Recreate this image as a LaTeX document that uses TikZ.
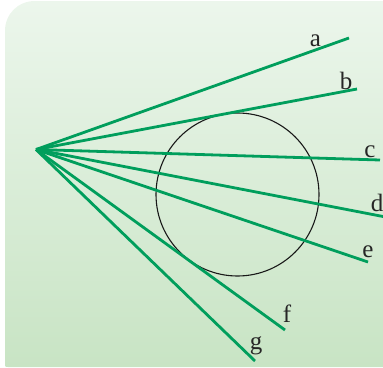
\documentclass[tikz,border=0pt]{standalone}
\usepackage{fontspec}
\setmainfont{Liberation Serif}
\definecolor{bgtop}{RGB}{236,246,236}
\definecolor{bgbot}{RGB}{200,228,196}
\definecolor{raygreen}{RGB}{0,158,92}
\begin{document}
\begin{tikzpicture}[x=1pt,y=-1pt,
  ray/.style={draw=raygreen,line width=2.8pt},
  lab/.style={anchor=base,inner sep=0pt,font=\fontsize{25}{28}\selectfont,text=black!85}]
\useasboundingbox (0,0) rectangle (383,367);
\shade[top color=bgtop,bottom color=bgbot]
  (5,366) -- (5,31) .. controls (5,14) and (18,1) .. (35,1) -- (383,1) -- (383,367) -- (8,367) .. controls (6,367) and (5,366.5) .. (5,366) -- cycle;
\node[draw=black!90,line width=1.1pt,circle,minimum size=163pt,inner sep=0pt] (circ) at (237.5,194.5) {};
\coordinate (O) at (36,149.5);
\coordinate (A) at (349,38);
\coordinate (B) at (357,89);
\coordinate (C) at (380,160);
\coordinate (D) at (383,216.5);
\coordinate (E) at (368,262);
\coordinate (F) at (285,330);
\coordinate (G) at (255,361);
\foreach \p in {A,B,C,D,E,F,G}{\draw[ray] (O) -- (\p);}
\node[lab] (la) at (315.5,46) {a};
\node[lab] (lb) at (346,89) {b};
\node[lab] (lc) at (370,157) {c};
\node[lab] (ld) at (377,211) {d};
\node[lab] (le) at (368,257) {e};
\node[lab] (lf) at (287,322) {f};
\node[lab] (lg) at (256,349) {g};
\end{tikzpicture}
\end{document}
